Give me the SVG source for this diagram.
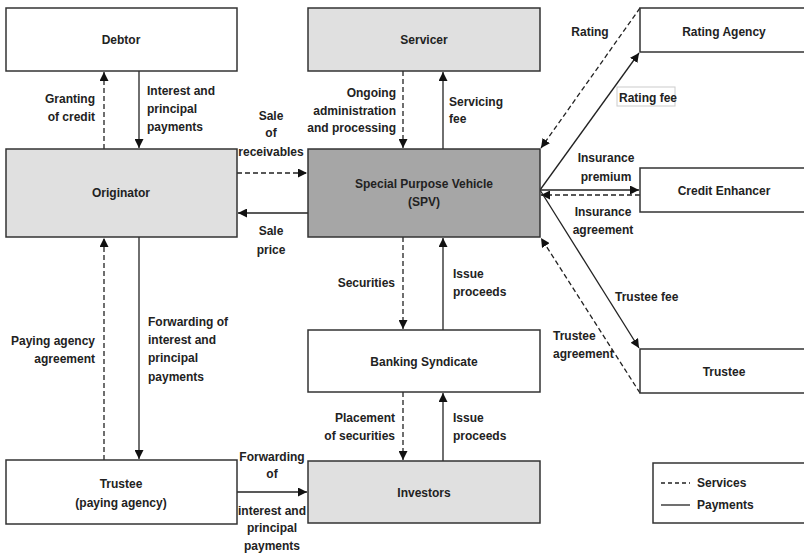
<svg xmlns="http://www.w3.org/2000/svg" width="804" height="553" viewBox="0 0 804 553">
<defs>
<style>
.box{stroke:#333;stroke-width:1.5}
.w{fill:#fff}.g{fill:#e0e0e0}.d{fill:#a6a6a6}
text{font-family:"Liberation Sans",Arial,sans-serif;font-size:12px;font-weight:bold;fill:#222}
.c{text-anchor:middle}.e{text-anchor:end}
.s{stroke:#222;stroke-width:1.3;fill:none}
.dash{stroke-dasharray:5,3}
</style>
<marker id="ah" viewBox="0 0 10 10" refX="10" refY="5" markerWidth="9" markerHeight="9" markerUnits="userSpaceOnUse" orient="auto">
<path d="M0,0 L10,5 L0,10 z" fill="#111"/>
</marker>
</defs>
<rect width="804" height="553" fill="#fff"/>

<g id="connectors">
<line class="s dash" x1="104" y1="149" x2="104" y2="72" marker-end="url(#ah)"/>
<line class="s" x1="139" y1="71" x2="139" y2="148" marker-end="url(#ah)"/>
<line class="s dash" x1="237" y1="173" x2="307" y2="173" marker-end="url(#ah)"/>
<line class="s" x1="308" y1="213" x2="238" y2="213" marker-end="url(#ah)"/>
<line class="s dash" x1="403" y1="71" x2="403" y2="148" marker-end="url(#ah)"/>
<line class="s" x1="443" y1="149" x2="443" y2="72" marker-end="url(#ah)"/>
<line class="s dash" x1="403" y1="237" x2="403" y2="329" marker-end="url(#ah)"/>
<line class="s" x1="443" y1="330" x2="443" y2="238" marker-end="url(#ah)"/>
<line class="s dash" x1="403" y1="392" x2="403" y2="460" marker-end="url(#ah)"/>
<line class="s" x1="443" y1="461" x2="443" y2="393" marker-end="url(#ah)"/>
<line class="s dash" x1="104" y1="460" x2="104" y2="238" marker-end="url(#ah)"/>
<line class="s" x1="139" y1="237" x2="139" y2="459" marker-end="url(#ah)"/>
<line class="s" x1="237" y1="492" x2="307" y2="492" marker-end="url(#ah)"/>
<line class="s dash" x1="640" y1="8" x2="541" y2="148" marker-end="url(#ah)"/>
<line class="s" x1="540" y1="190" x2="639" y2="53" marker-end="url(#ah)"/>
<line class="s" x1="540" y1="190" x2="639" y2="190" marker-end="url(#ah)"/>
<line class="s dash" x1="640" y1="195" x2="541" y2="195" marker-end="url(#ah)"/>
<line class="s" x1="540" y1="190" x2="639" y2="348" marker-end="url(#ah)"/>
<line class="s dash" x1="640" y1="393" x2="541" y2="238" marker-end="url(#ah)"/>
</g>

<g id="debtor"><rect class="box w" x="6" y="8" width="231" height="63"/><text class="c" x="121" y="44">Debtor</text></g>
<g id="servicer"><rect class="box g" x="308" y="8" width="232" height="63"/><text class="c" x="424" y="44">Servicer</text></g>
<g id="originator"><rect class="box g" x="6" y="149" width="231" height="88"/><text class="c" x="121" y="197">Originator</text></g>
<g id="spv"><rect class="box d" x="308" y="149" width="232" height="88"/><text class="c" x="424" y="188">Special Purpose Vehicle</text><text class="c" x="424" y="206">(SPV)</text></g>
<g id="rating-agency"><rect class="box w" x="640" y="8" width="170" height="44"/><text class="c" x="724" y="36">Rating Agency</text></g>
<g id="credit-enhancer"><rect class="box w" x="640" y="168" width="170" height="44"/><text class="c" x="724" y="195">Credit Enhancer</text></g>
<g id="trustee"><rect class="box w" x="640" y="349" width="170" height="44"/><text class="c" x="724" y="376">Trustee</text></g>
<g id="banking-syndicate"><rect class="box w" x="308" y="330" width="232" height="62"/><text class="c" x="424" y="366">Banking Syndicate</text></g>
<g id="investors"><rect class="box g" x="308" y="461" width="232" height="62"/><text class="c" x="424" y="497">Investors</text></g>
<g id="trustee-paying-agency"><rect class="box w" x="6" y="460" width="231" height="64"/><text class="c" x="121" y="488">Trustee</text><text class="c" x="121" y="507">(paying agency)</text></g>
<g id="legend"><rect class="box w" x="653" y="463" width="160" height="60"/>
<line class="s" x1="661" y1="483" x2="690" y2="483" stroke-dasharray="4,3"/><text x="697" y="487">Services</text>
<line class="s" x1="661" y1="505" x2="690" y2="505"/><text x="697" y="509">Payments</text></g>

<g id="labels">
<text class="e" x="95" y="103">Granting</text><text class="e" x="95" y="121">of credit</text>
<text x="147" y="95">Interest and</text><text x="147" y="113">principal</text><text x="147" y="131">payments</text>
<text class="c" x="271" y="120">Sale</text><text class="c" x="271" y="137">of</text><text class="c" x="271" y="156">receivables</text>
<text class="c" x="271" y="235">Sale</text><text class="c" x="271" y="254">price</text>
<text class="e" x="396" y="97">Ongoing</text><text class="e" x="396" y="115">administration</text><text class="e" x="396" y="132">and processing</text>
<text x="449" y="106">Servicing</text><text x="449" y="123">fee</text>
<text class="e" x="395" y="287">Securities</text>
<text x="453" y="278">Issue</text><text x="453" y="296">proceeds</text>
<text class="c" x="590" y="36">Rating</text>
<rect x="617" y="87" width="58" height="19" fill="#fff" stroke="#ccc" stroke-width="1"/>
<text x="619" y="102">Rating fee</text>
<text class="c" x="606" y="162">Insurance</text><text class="c" x="606" y="181">premium</text>
<text class="c" x="603" y="216">Insurance</text><text class="c" x="603" y="234">agreement</text>
<text x="615" y="301">Trustee fee</text>
<text x="553" y="340">Trustee</text><text x="553" y="358">agreement</text>
<text class="e" x="95" y="345">Paying agency</text><text class="e" x="95" y="363">agreement</text>
<text x="148" y="326">Forwarding of</text><text x="148" y="344">interest and</text><text x="148" y="362">principal</text><text x="148" y="381">payments</text>
<text class="c" x="272" y="461">Forwarding</text><text class="c" x="272" y="478">of</text>
<text class="c" x="272" y="515">interest and</text><text class="c" x="272" y="532">principal</text><text class="c" x="272" y="550">payments</text>
<text class="e" x="395" y="422">Placement</text><text class="e" x="395" y="440">of securities</text>
<text x="453" y="422">Issue</text><text x="453" y="440">proceeds</text>
</g>
</svg>
